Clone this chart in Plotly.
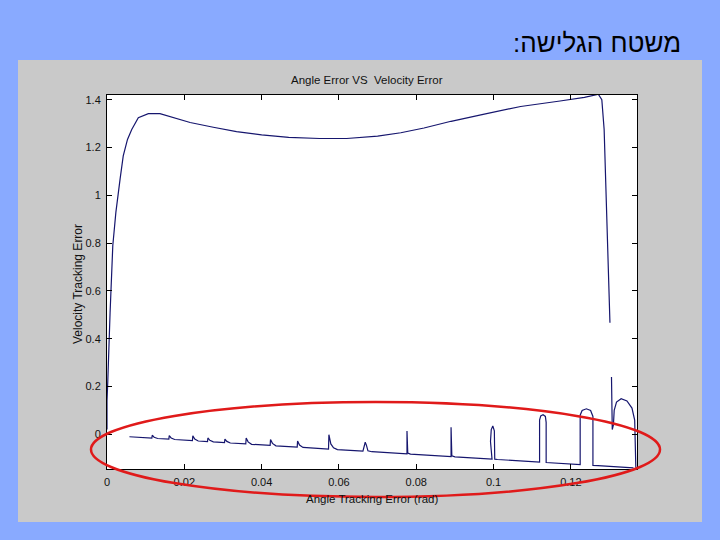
import plotly.graph_objects as go

# ---------------- data ----------------
x_tick_vals = [0, 0.02, 0.04, 0.06, 0.08, 0.10, 0.12]
x_tick_text = ["0", "0.02", "0.04", "0.06", "0.08", "0.1", "0.12"]
y_tick_vals = [0, 0.2, 0.4, 0.6, 0.8, 1.0, 1.2, 1.4]
y_tick_text = ["0", "0.2", "0.4", "0.6", "0.8", "1", "1.2", "1.4"]

# upper arc of the sliding-surface trajectory
upper_angle = [0.0, 0.0, 0.0002, 0.0003, 0.0008, 0.0015, 0.0023, 0.0034, 0.0042, 0.0053,
               0.0064, 0.0081, 0.0107, 0.0137, 0.018, 0.0215, 0.0275, 0.0335, 0.040, 0.047,
               0.055, 0.062, 0.070, 0.076, 0.082, 0.089, 0.097, 0.107, 0.1172, 0.1198,
               0.1235, 0.1271, 0.1280, 0.1286, 0.1288, 0.1293, 0.1297, 0.1301, None,
               0.1305, 0.1307, 0.1310, 0.1312, 0.1318, 0.1330, 0.1345, 0.1358, 0.1365, 0.1368]
upper_vel = [0.02, 0.14, 0.22, 0.286, 0.51, 0.79, 0.93, 1.07, 1.165, 1.234,
             1.276, 1.325, 1.342, 1.342, 1.321, 1.305, 1.285, 1.267, 1.253, 1.243,
             1.238, 1.238, 1.248, 1.262, 1.282, 1.310, 1.338, 1.372, 1.395, 1.400,
             1.410, 1.423, 1.400, 1.276, 1.180, 0.930, 0.704, 0.467, None,
             0.240, 0.020, 0.040, 0.100, 0.135, 0.149, 0.140, 0.110, 0.060, -0.140]

# lower part of the trajectory with chattering spikes
lower_angle = [0.0058,
               0.0116, 0.0117, 0.0122, 0.0131,
               0.0160, 0.0161, 0.0166, 0.0175,
               0.0221, 0.0222, 0.0227, 0.0236,
               0.0260, 0.0261, 0.0266, 0.0275,
               0.0304, 0.0305, 0.0310, 0.0319,
               0.0359, 0.0360, 0.0365, 0.0374,
               0.0422, 0.0423, 0.0428, 0.0437,
               0.0492, 0.0493, 0.0498, 0.0507,
               0.0573, 0.0574, 0.0579, 0.0586, 0.0596,
               0.0662, 0.0665, 0.0668, 0.0671, 0.0675, 0.0685,
               0.0713,
               0.0776, 0.0776, 0.0778, 0.0785,
               0.0890, 0.0890, 0.0892, 0.0900,
               0.0996, 0.0992, 0.0994, 0.0998, 0.1002, 0.1003, 0.1010,
               0.1119, 0.1119, 0.1122, 0.1128, 0.1134, 0.1136, 0.1136, 0.1150,
               0.1224, 0.1224, 0.1229, 0.1240, 0.1251, 0.1257, 0.1257, 0.1270,
               0.1362]
lower_vel = [-0.0100,
             -0.0158, -0.0038, -0.0120, -0.0173,
             -0.0202, -0.0052, -0.0150, -0.0217,
             -0.0263, -0.0063, -0.0200, -0.0278,
             -0.0302, -0.0152, -0.0250, -0.0317,
             -0.0346, -0.0196, -0.0295, -0.0361,
             -0.0401, -0.0151, -0.0315, -0.0416,
             -0.0464, -0.0214, -0.0378, -0.0479,
             -0.0534, -0.0284, -0.0448, -0.0549,
             -0.0615, -0.0015, -0.0400, -0.0560, -0.0638,
             -0.0704, -0.0450, -0.0330, -0.0450, -0.0690, -0.0727,
             -0.0755,
             -0.0818, 0.0140, -0.0780, -0.0827,
             -0.0932, 0.0300, -0.0900, -0.0942,
             -0.1038, -0.0300, 0.0200, 0.0350, 0.0150, -0.1040, -0.1052,
             -0.1161, 0.0600, 0.0770, 0.0820, 0.0750, 0.0500, -0.1178, -0.1192,
             -0.1266, 0.0800, 0.1000, 0.1070, 0.1000, 0.0750, -0.1299, -0.1312,
             -0.1404]

# ---------------- layout geometry (pixels) ----------------
W, H = 720, 540
L, R, T, B = 107, 637, 95, 469
pw, ph = R - L, B - T


def px(xp):
    return (xp - L) / pw


def py(yp):
    return (B - yp) / ph


line_color = "#16166e"
font_family = "Liberation Sans, Arial, sans-serif"
label_size = 11.5

fig = go.Figure()
fig.add_trace(go.Scatter(x=upper_angle, y=upper_vel, mode="lines",
                         line=dict(color=line_color, width=1.2), connectgaps=False,
                         hoverinfo="skip", showlegend=False))
fig.add_trace(go.Scatter(x=lower_angle, y=lower_vel, mode="lines",
                         line=dict(color=line_color, width=1.2),
                         hoverinfo="skip", showlegend=False))

shapes = [
    # grey figure panel
    dict(type="rect", xref="paper", yref="paper", layer="below",
         x0=px(18), x1=px(702), y0=py(522), y1=py(60),
         fillcolor="#c9c9c9", line=dict(width=0)),
    # white axes area
    dict(type="rect", xref="paper", yref="paper", layer="below",
         x0=0, x1=1, y0=0, y1=1, fillcolor="white", line=dict(width=0)),
    # red highlight ellipse
    dict(type="circle", xref="paper", yref="paper", layer="above",
         x0=px(91), x1=px(660), y0=py(497), y1=py(402),
         line=dict(color="#e01a1a", width=2.5)),
]

annotations = [
    dict(text="משטח הגלישה:\u200f", xref="paper", yref="paper", x=px(683), y=py(43),
         xanchor="right", yanchor="middle", showarrow=False,
         font=dict(family=font_family, size=26, color="black")),
    dict(text="Angle Error VS  Velocity Error", xref="paper", yref="paper",
         x=px(367), y=py(80), xanchor="center", yanchor="middle", showarrow=False,
         font=dict(family=font_family, size=label_size, color="#111")),
    dict(text="Velocity Tracking Error", xref="paper", yref="paper",
         x=px(78), y=py(284), xanchor="center", yanchor="middle", showarrow=False,
         textangle=-90, font=dict(family=font_family, size=12, color="#111")),
    dict(text="Angle Tracking Error (rad)", xref="paper", yref="paper",
         x=px(372), y=py(499), xanchor="center", yanchor="middle", showarrow=False,
         font=dict(family=font_family, size=label_size, color="#111")),
]

fig.update_layout(
    width=W, height=H,
    margin=dict(l=L, r=W - R, t=T, b=H - B, pad=0),
    paper_bgcolor="#89aaff",
    plot_bgcolor="white",
    shapes=shapes,
    annotations=annotations,
    showlegend=False,
    font=dict(family=font_family, size=11, color="#111"),
)
fig.update_xaxes(range=[0, 0.1371], tickvals=x_tick_vals, ticktext=x_tick_text,
                 showgrid=False, zeroline=False, showline=True, linecolor="black",
                 linewidth=1, mirror="ticks", ticks="inside", ticklen=5,
                 tickcolor="black", ticklabelstandoff=3)
fig.update_yaxes(range=[-0.145, 1.42], tickvals=y_tick_vals, ticktext=y_tick_text,
                 showgrid=False, zeroline=False, showline=True, linecolor="black",
                 linewidth=1, mirror="ticks", ticks="inside", ticklen=5,
                 tickcolor="black", ticklabelstandoff=3)

fig.write_html(
    "out.html",
    config={"displayModeBar": False},
    post_script="document.body.style.margin='0';document.body.style.background='#89aaff';",
)
